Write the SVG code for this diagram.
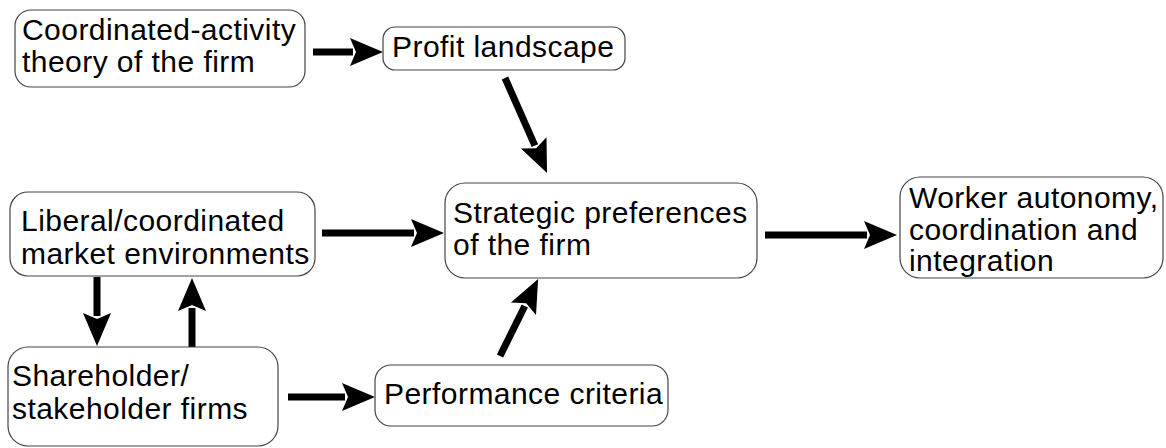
<svg xmlns="http://www.w3.org/2000/svg" width="1166" height="448" viewBox="0 0 1166 448">
  <style>
    .box { fill: #ffffff; stroke: #444444; stroke-width: 1.2; }
    .lbl { font-family: "Liberation Sans", Arial, sans-serif; font-size: 30px; letter-spacing: 0.45px; fill: #000000; }
    .arr { stroke: #000000; stroke-width: 7; fill: none; marker-end: url(#head); }
  </style>
  <defs>
    <!-- notched arrowhead, fixed size in user units -->
    <marker id="head" markerUnits="userSpaceOnUse" markerWidth="42" markerHeight="34" viewBox="-2 -17 42 34" refX="3" refY="0" orient="auto">
      <path d="M33,0 L0,-14 L6,0 L0,14 Z" fill="#000000"/>
    </marker>
  </defs>
  <rect width="1166" height="448" fill="#ffffff"/>

  <g id="connectors">
    <line class="arr" x1="313" y1="52" x2="353" y2="52"/>
    <line class="arr" x1="505" y1="78" x2="534.9" y2="145.6"/>
    <line class="arr" x1="322" y1="233" x2="414" y2="233"/>
    <line class="arr" x1="765" y1="235" x2="867" y2="235"/>
    <line class="arr" x1="97" y1="277" x2="97" y2="316"/>
    <line class="arr" x1="192" y1="347" x2="192" y2="308"/>
    <line class="arr" x1="288" y1="397" x2="345" y2="397"/>
    <line class="arr" x1="500" y1="356" x2="524.8" y2="306"/>
  </g>

  <g id="node-coordinated-activity">
    <rect class="box" x="15" y="10" width="290" height="77" rx="16"/>
    <text class="lbl" x="22" y="40">Coordinated-activity</text>
    <text class="lbl" x="22" y="72">theory of the firm</text>
  </g>

  <g id="node-profit-landscape">
    <rect class="box" x="383" y="27" width="242" height="43" rx="12"/>
    <text class="lbl" x="392" y="57">Profit landscape</text>
  </g>

  <g id="node-market-environments">
    <rect class="box" x="10" y="192" width="305" height="84" rx="18"/>
    <text class="lbl" x="21" y="231">Liberal/coordinated</text>
    <text class="lbl" x="21" y="264">market environments</text>
  </g>

  <g id="node-strategic-preferences">
    <rect class="box" x="445" y="183" width="312" height="95" rx="20"/>
    <text class="lbl" x="453" y="223">Strategic preferences</text>
    <text class="lbl" x="453" y="255">of the firm</text>
  </g>

  <g id="node-worker-autonomy">
    <rect class="box" x="900" y="177" width="263" height="101" rx="20"/>
    <text class="lbl" x="909" y="208">Worker autonomy,</text>
    <text class="lbl" x="909" y="240">coordination and</text>
    <text class="lbl" x="909" y="271">integration</text>
  </g>

  <g id="node-shareholder-firms">
    <rect class="box" x="8" y="347" width="270" height="99" rx="20"/>
    <text class="lbl" x="12" y="386">Shareholder/</text>
    <text class="lbl" x="12" y="419">stakeholder firms</text>
  </g>

  <g id="node-performance-criteria">
    <rect class="box" x="375" y="365" width="293" height="61" rx="16"/>
    <text class="lbl" x="384" y="404">Performance criteria</text>
  </g>
</svg>
